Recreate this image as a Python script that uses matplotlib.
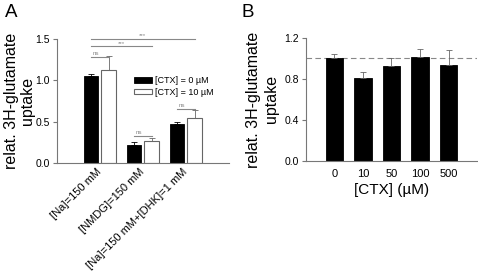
import numpy as np
import matplotlib.pyplot as plt
from matplotlib.patches import Patch

plt.rcParams['font.family'] = ['Liberation Sans', 'DejaVu Sans']

# panel A
conds = ['[Na]=150 mM', '[NMDG]=150 mM', '[Na]=150 mM+[DHK]=1 mM']
ctx0 = [1.05, 0.22, 0.47]
ctx0_err = [0.03, 0.03, 0.03]
ctx10 = [1.13, 0.27, 0.55]
ctx10_err = [0.16, 0.03, 0.09]

# panel B
doses = ['0', '10', '50', '100', '500']
uptake = [1.00, 0.81, 0.93, 1.01, 0.94]
uptake_err = [0.04, 0.06, 0.07, 0.08, 0.14]

spine_c = '#777777'
edge_c = '#666666'

fig = plt.figure(figsize=(4.78, 2.75), dpi=100)
axA = fig.add_axes([0.119, 0.407, 0.360, 0.451])
axB = fig.add_axes([0.640, 0.415, 0.358, 0.447])

for ax in (axA, axB):
    for s in ('top', 'right'):
        ax.spines[s].set_visible(False)
    for s in ('left', 'bottom'):
        ax.spines[s].set_color(spine_c)
        ax.spines[s].set_linewidth(0.8)
    ax.tick_params(axis='y', direction='out', length=3, width=0.8, color=spine_c,
                   labelsize=7.5, pad=2)
    ax.tick_params(axis='x', length=0)

x = np.arange(len(conds))
w = 0.33
off = 0.2
axA.bar(x - off, ctx0, w, color='black', edgecolor='black', linewidth=0.6,
        yerr=[np.zeros(3), ctx0_err], error_kw=dict(ecolor='black', elinewidth=0.6,
                                                    capsize=2, capthick=0.6))
axA.bar(x + off, ctx10, w, color='white', edgecolor=edge_c, linewidth=0.8,
        yerr=[np.zeros(3), ctx10_err], error_kw=dict(ecolor=edge_c, elinewidth=0.6,
                                                     capsize=2, capthick=0.6))
axA.set_xlim(-1, 3)
axA.set_ylim(0, 1.5)
axA.set_yticks([0, 0.5, 1.0, 1.5])
axA.set_yticklabels(['0.0', '0.5', '1.0', '1.5'])
axA.set_xticks(x)
axA.set_xticklabels(conds, rotation=45, ha='right', va='center',
                    rotation_mode='anchor', fontsize=8)
axA.tick_params(axis='x', pad=5)

sig_c = '#888888'
# ns lines over each group
ns_lv = [1.28, 0.33, 0.65]
for i, lv in enumerate(ns_lv):
    axA.plot([x[i] - off, x[i] + off], [lv, lv], color=sig_c, lw=0.8, clip_on=False)
    axA.text(x[i] - 0.1, lv + 0.015, 'ns', fontsize=4.5, color=sig_c, ha='center', va='bottom')
# *** lines
for j, lv in zip([1, 2], [1.41, 1.5]):
    axA.plot([x[0] - off, x[j] + off], [lv, lv], color=sig_c, lw=0.8, clip_on=False)
    axA.text((x[0] - off + x[j] + off) / 2, lv + 0.01, '***', fontsize=4.5, color=sig_c,
             ha='center', va='bottom', clip_on=False)

handles = [Patch(facecolor='black', edgecolor='black', linewidth=0.6),
           Patch(facecolor='white', edgecolor=edge_c, linewidth=0.8)]
axA.legend(handles, ['[CTX] = 0 µM', '[CTX] = 10 µM'], loc='upper left',
           bbox_to_anchor=(0.43, 0.73), frameon=False, fontsize=6.5,
           handlelength=1.9, handleheight=0.5, handletextpad=0.4, labelspacing=0.3,
           borderaxespad=0)

axA.set_ylabel('relat. 3H-glutamate\nuptake', fontsize=11.5, linespacing=1.15)
axA.yaxis.set_label_coords(-0.125, 0.5)

xb = np.arange(len(doses))
axB.bar(xb, uptake, 0.6, color='black', edgecolor='black', linewidth=0.6,
        yerr=[np.zeros(len(doses)), uptake_err],
        error_kw=dict(ecolor=edge_c, elinewidth=0.6, capsize=2.5, capthick=0.6))
axB.axhline(1.0, color='#888888', lw=0.8, ls=(0, (5, 3)), zorder=0)
axB.set_xlim(-1, 5)
axB.set_ylim(0, 1.2)
axB.set_yticks([0, 0.4, 0.8, 1.2])
axB.set_yticklabels(['0.0', '0.4', '0.8', '1.2'])
axB.set_xticks(xb)
axB.set_xticklabels(doses, fontsize=8)
axB.tick_params(axis='x', pad=6)
axB.set_xlabel('[CTX] (µM)', fontsize=11, labelpad=3)
axB.set_ylabel('relat. 3H-glutamate\nuptake', fontsize=11.5, linespacing=1.25)
axB.yaxis.set_label_coords(-0.155, 0.5)

fig.text(0.01, 0.985, 'A', fontsize=13.5, va='top', ha='left')
fig.text(0.505, 0.985, 'B', fontsize=13.5, va='top', ha='left')

fig.savefig('out.png', dpi=100)
